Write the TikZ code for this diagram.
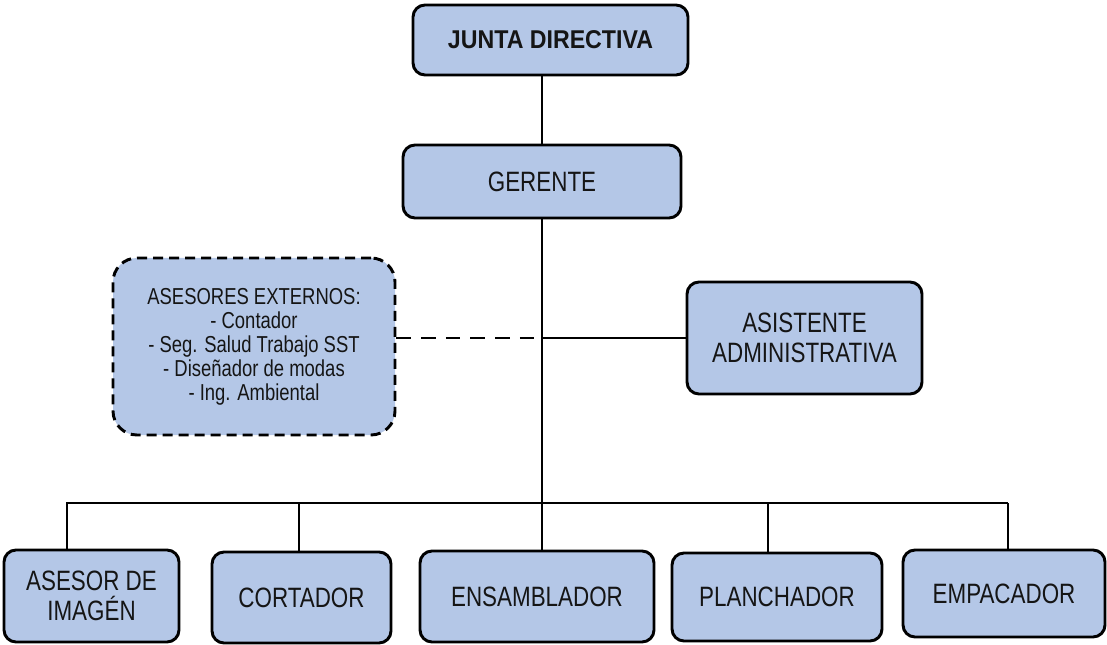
\documentclass[tikz,border=0pt]{standalone}
\usepackage{fontspec}
\setmainfont{Liberation Sans}[FakeStretch=0.8]
\newfontfamily\jdfont{Liberation Sans}[FakeStretch=0.9]
\definecolor{boxblue}{HTML}{B4C7E7}
\definecolor{txt}{HTML}{151515}
\tikzset{
  box/.style={draw=black, line width=2.2pt, fill=boxblue, rounded corners=9pt,
    inner sep=0pt, align=center, text=txt,
    font=\fontsize{21pt}{22.5pt}\selectfont},
  extbox/.style={box, dash pattern=on 7.5pt off 4.5pt, rounded corners=18pt,
    font=\fontsize{17.3pt}{18pt}\selectfont},
  conn/.style={line width=1.9pt},
  thinconn/.style={line width=1.1pt},
  extconn/.style={line width=1.9pt, dash pattern=on 11pt off 7.5pt},
}
\begin{document}
\begin{tikzpicture}[x=0.75pt,y=-0.75pt]
\useasboundingbox (0,0) rectangle (1107,645);
% nodes
\node[box, minimum width=206.25pt, minimum height=52.5pt,
  font=\jdfont\fontsize{19.3pt}{23pt}\selectfont\bfseries] (jd) at (550.5,40) {JUNTA DIRECTIVA};
\node[box, minimum width=208.5pt, minimum height=54.75pt] (ger) at (542,181.5) {GERENTE};
\node[extbox, minimum width=211.5pt, minimum height=132.75pt] (ase) at (254,346.5)
  {ASESORES EXTERNOS:\\- Contador\\- Seg. Salud Trabajo SST\\- Diseñador de modas\\- Ing. Ambiental};
\node[box, minimum width=176.25pt, minimum height=84pt] (asi) at (804.5,338)
  {ASISTENTE\\ADMINISTRATIVA};
\node[box, minimum width=131.25pt, minimum height=69pt] (b1) at (91.5,596) {ASESOR DE\\IMAGÉN};
\node[box, minimum width=134.25pt, minimum height=68.25pt] (b2) at (301.5,597.5) {CORTADOR};
\node[box, minimum width=175.5pt, minimum height=68.25pt] (b3) at (537,596.5) {ENSAMBLADOR};
\node[box, minimum width=157.5pt, minimum height=66pt] (b4) at (777,597) {PLANCHADOR};
\node[box, minimum width=151.5pt, minimum height=65.25pt] (b5) at (1004,593.5) {EMPACADOR};
% bus coordinates
\coordinate (d1) at (67,503);
\coordinate (d2) at (299,503);
\coordinate (d4) at (768,503);
\coordinate (d5) at (1008,503);
% connectors
\draw[conn] (ger.north |- jd.south) -- (ger.north);
\draw[conn] (ger.south) -- (ger.south |- b3.north);
\draw[conn] (ger.south |- asi.west) -- (asi.west);
\draw[extconn] (ase.east |- asi.west) -- (ger.south |- asi.west);
\draw[conn] (b1.north -| d1) -- (d1) -- (d5);
\draw[conn] (d2) -- (b2.north -| d2);
\draw[thinconn] (d4) -- (b4.north -| d4);
\draw[thinconn] (d5) -- (b5.north -| d5);
\end{tikzpicture}
\end{document}
